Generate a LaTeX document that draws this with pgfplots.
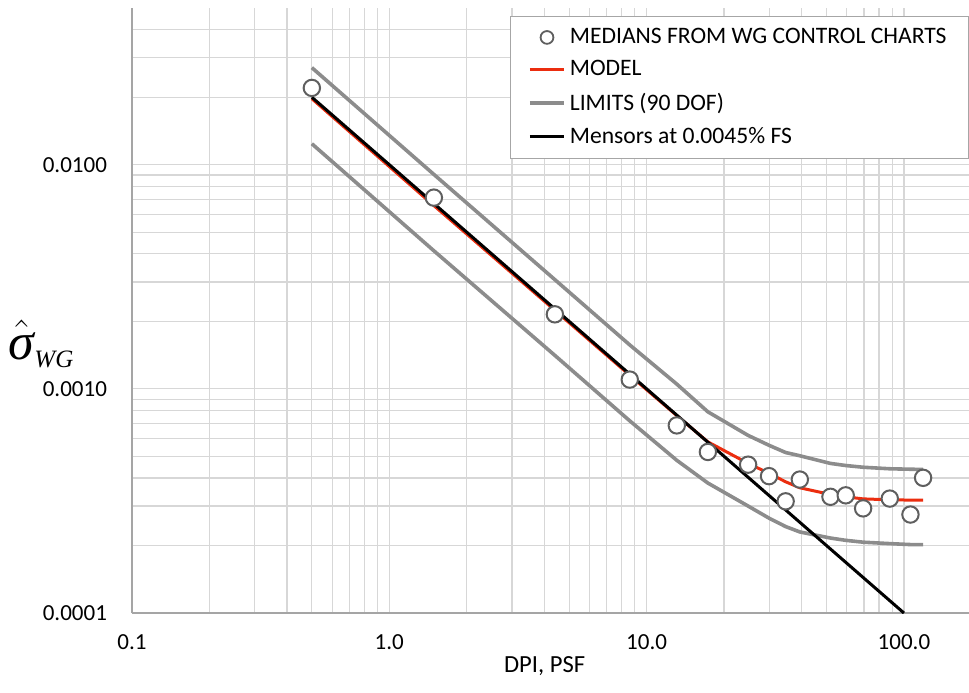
\documentclass[border=0pt]{standalone}
\usepackage{fontspec}
\setmainfont{Carlito}
\newfontfamily\timesf{Liberation Serif}
\usepackage{pgfplots}
\pgfplotsset{compat=1.18}

\definecolor{modelred}{RGB}{235,45,15}
\definecolor{limitgray}{RGB}{140,140,140}
\definecolor{gridgray}{RGB}{215,215,215}
\definecolor{markgray}{RGB}{95,95,95}
\definecolor{axisgray}{RGB}{165,165,165}

% medians of the within-group standard deviation
\pgfplotstableread{
x      y
0.50   0.0220
1.49   0.00713
4.40   0.00215
8.60   0.00110
13.1   0.000687
17.3   0.000523
24.8   0.000459
29.9   0.000408
34.7   0.000315
39.4   0.000394
51.8   0.000330
59.4   0.000335
69.4   0.000293
88.1   0.000324
106    0.000275
118.7  0.000401
}\medians

\pgfplotstableread{
x      model     upper     lower
0.50   0.0197    0.0271    0.0124
1.49   0.00657   0.00905   0.00413
4.40   0.00224   0.00307   0.00141
8.60   0.00115   0.00157   0.00072
13.1   0.00076   0.00105   0.00048
17.3   0.00058   0.00079   0.00038
24.8   0.000465  0.00062   0.000300
29.9   0.00042   0.00056   0.000265
34.7   0.000385  0.00052   0.000243
39.4   0.000362  0.000503  0.000230
51.8   0.000338  0.000465  0.000216
59.4   0.00033   0.000455  0.000211
69.4   0.000323  0.000447  0.000207
88.1   0.00032   0.00044   0.000204
106    0.000319  0.000438  0.000202
118.7  0.000319  0.000437  0.000202
}\modeltab

\pgfplotstableread{
x      y
0.5    0.0200
100    0.0001
}\mensors

\begin{document}
\begin{tikzpicture}
\begin{loglogaxis}[
  scale only axis,
  width=418.5pt, height=302.5pt,
  xmin=0.1, xmax=179, ymin=0.0001, ymax=0.05,
  axis x line*=bottom, axis y line*=left,
  axis line style={-, draw=axisgray, line width=0.8pt},
  grid=both,
  major grid style={draw=gridgray, line width=0.6pt},
  minor grid style={draw=gridgray, line width=0.6pt},
  tick style={draw=none},
  xtick={0.1,1,10,100}, xticklabels={0.1,1.0,10.0,100.0},
  ytick={0.0001,0.001,0.01}, yticklabels={0.0001,0.0010,0.0100},
  minor xtick={0.2,0.3,0.4,0.5,0.6,0.7,0.8,0.9,2,3,4,5,6,7,8,9,20,30,40,50,60,70,80,90},
  minor ytick={0.0002,0.0003,0.0004,0.0005,0.0006,0.0007,0.0008,0.0009,0.002,0.003,0.004,0.005,0.006,0.007,0.008,0.009,0.02,0.03,0.04},
  ticklabel style={font=\fontsize{11.5}{13}\selectfont},
  xticklabel style={yshift=-7pt},
  yticklabel style={xshift=-9pt},
  xlabel={DPI, PSF},
  xlabel style={font=\fontsize{12.3}{14}\selectfont, at={(axis description cs:0.493,-0.088)}, anchor=center},
  ylabel={\fontsize{26}{26}\selectfont$\hat{\hbox{\timesf\itshape σ}}_{\hbox{\fontsize{12.5}{12.5}\selectfont\timesf\itshape WG}}$},
  ylabel style={rotate=-90, at={(axis description cs:-0.108,0.445)}, anchor=center},
  legend style={at={(axis description cs:1,0.987)}, anchor=north east,
    draw=black!35, fill=white, font=\fontsize{11.8}{13}\selectfont,
    row sep=3pt, inner xsep=9pt, inner ysep=4pt, cells={anchor=west}},
  legend cell align=left,
  legend entries={MEDIANS FROM WG CONTROL CHARTS, MODEL, LIMITS (90 DOF), Mensors at 0.0045\% FS},
]
\addlegendimage{only marks, mark=*, mark size=3.2pt, mark options={fill=white, draw=markgray, line width=0.9pt}}
\addlegendimage{modelred, line width=1.5pt}
\addlegendimage{limitgray, line width=1.8pt}
\addlegendimage{black, line width=1.5pt}

\addplot[forget plot, limitgray, line width=1.8pt] table[x=x, y=upper] {\modeltab};
\addplot[forget plot, limitgray, line width=1.8pt] table[x=x, y=lower] {\modeltab};
\addplot[forget plot, modelred, line width=1.5pt] table[x=x, y=model] {\modeltab};
\addplot[forget plot, black, line width=1.5pt] table[x=x, y=y] {\mensors};
\addplot[forget plot, only marks, mark=*, mark size=4.1pt,
  mark options={fill=white, draw=markgray, line width=1pt}] table[x=x, y=y] {\medians};
\end{loglogaxis}
\pgfresetboundingbox
\useasboundingbox (-66pt,-39.5pt) rectangle (418.5pt,306.5pt);
\end{tikzpicture}
\end{document}
